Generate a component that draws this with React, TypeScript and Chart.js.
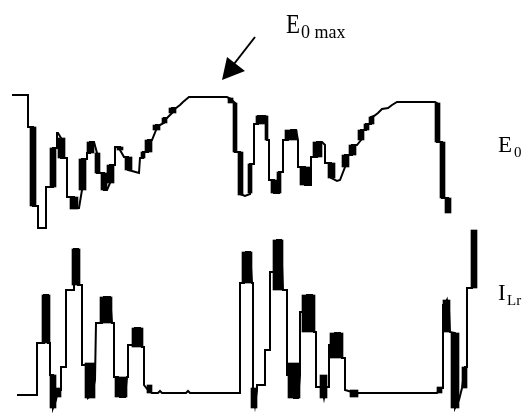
import React, { useEffect, useRef } from 'react';
import { Chart, registerables } from 'chart.js';

Chart.register(...registerables);

// Time axis (arbitrary units) and level (arbitrary units).
// E0 waveform: [time, level]
const E0_TRACE: [number, number][] = [
  [12, 318], [28, 318], [28, 286], [33, 286], [33, 207], [38, 207], [38, 185], [46, 185],
  [46, 226], [53, 226], [53, 265], [57, 265], [57, 280], [58, 280], [61, 275], [61, 255],
  [67, 255], [67, 216], [74, 216], [74, 205], [79, 205], [82, 223], [82, 254], [87, 254],
  [87, 260], [90, 260], [90, 271], [94, 271], [97, 260], [97, 240], [104, 240], [104, 223],
  [107, 223], [110, 230], [110, 248], [115, 248], [115, 266], [120, 266], [120, 263], [124, 256],
  [128, 256], [128, 243], [132, 242], [139, 240], [140, 255], [143, 255], [143, 261], [148, 261],
  [148, 273], [152, 273], [156, 283], [156, 288], [160, 288], [164, 290], [164, 295], [167, 295],
  [172, 300], [172, 305], [176, 305], [180, 308], [183, 311], [189, 316], [227, 316], [231, 314],
  [235, 310], [235, 261], [240, 261], [240, 219], [245, 217], [250, 219], [250, 249], [254, 249],
  [254, 289], [258, 289], [258, 297], [265, 297], [267, 288], [267, 273], [269, 273], [269, 233],
  [274, 233], [274, 220], [279, 220], [279, 241], [283, 241], [283, 273], [288, 273], [291, 283],
  [296, 283], [298, 273], [298, 246], [305, 246], [305, 228], [311, 228], [311, 256], [317, 256],
  [317, 271], [322, 271], [325, 268], [325, 250], [331, 250], [331, 235], [337, 232], [340, 233],
  [345, 246], [345, 258], [352, 258], [352, 268], [357, 268], [361, 273], [361, 283], [366, 283],
  [366, 289], [371, 289], [371, 296], [374, 297], [378, 300], [382, 304], [388, 305], [392, 308],
  [397, 311], [435, 311], [437, 310], [437, 271], [442, 271], [442, 215], [448, 215], [448, 200],
];

// Fast transitions of E0: [startTime, endTime, highLevel, lowLevel]
const E0_FAST: [number, number, number, number][] = [
  [30, 36, 286, 207], [50, 56, 265, 226], [58, 65, 275, 255], [70, 78, 216, 204],
  [79, 86, 254, 223], [87, 94, 271, 260], [95, 100, 260, 240], [101, 107, 240, 223],
  [107, 114, 248, 230], [117, 123, 266, 263], [125, 132, 256, 243], [141, 145, 261, 255],
  [145, 152, 273, 261], [153, 160, 288, 283], [162, 167, 295, 290], [169, 176, 305, 300],
  [228, 233, 315, 310], [233, 237, 310, 261], [238, 243, 261, 218], [248, 252, 249, 220],
  [256, 267, 297, 289], [265, 268, 297, 273], [271, 277, 233, 220], [277, 281, 241, 220],
  [285, 297, 283, 273], [300, 310, 246, 228], [313, 322, 271, 256], [328, 335, 250, 235],
  [342, 349, 258, 246], [349, 356, 268, 258], [358, 364, 283, 273], [364, 369, 289, 283],
  [369, 374, 296, 289], [435, 440, 310, 271], [440, 445, 271, 215], [445, 451, 215, 200],
];

// ILr waveform: [time, level]
const ILR_TRACE: [number, number][] = [
  [17, 18], [37, 18], [37, 70], [44, 70], [44, 118], [48, 118], [48, 70], [50, 70],
  [50, 38], [53, 38], [53, 5], [56, 13], [58, 23], [61, 23], [61, 46], [66, 46],
  [66, 123], [74, 123], [74, 164], [78, 164], [78, 128], [82, 128], [82, 48], [88, 48],
  [88, 15], [92, 18], [95, 33], [96, 90], [102, 90], [104, 116], [110, 116], [112, 90],
  [114, 90], [114, 36], [118, 36], [120, 16], [125, 16], [127, 36], [128, 36], [128, 68],
  [133, 68], [135, 85], [140, 85], [142, 66], [144, 66], [144, 28], [148, 23], [152, 20],
  [158, 20], [160, 22], [162, 20], [186, 20], [188, 22], [190, 20], [240, 20], [240, 130],
  [244, 130], [246, 161], [250, 161], [252, 130], [253, 130], [253, 23], [255, 8], [257, 23],
  [257, 28], [265, 28], [265, 63], [270, 63], [270, 141], [275, 141], [277, 173], [281, 173],
  [283, 123], [287, 123], [287, 38], [292, 38], [294, 15], [298, 15], [300, 38], [300, 101],
  [305, 101], [307, 118], [312, 118], [314, 81], [316, 81], [316, 26], [322, 26], [324, 15],
  [326, 26], [329, 26], [329, 68], [333, 68], [335, 80], [340, 80], [342, 55], [345, 55],
  [345, 23], [352, 21], [356, 18], [358, 20], [437, 20], [440, 25], [443, 25], [443, 108],
  [445, 108], [447, 113], [449, 103], [450, 81], [455, 80], [455, 5], [459, 13], [462, 25],
  [465, 46], [467, 46], [467, 125], [472, 125], [474, 183],
];

// Fast transitions of ILr: [startTime, endTime, highLevel, lowLevel]
const ILR_FAST: [number, number, number, number][] = [
  [42, 50, 118, 70], [50, 56, 38, 5], [56, 61, 25, 16], [72, 80, 164, 128],
  [85, 95, 50, 15], [100, 112, 116, 90], [115, 127, 36, 16], [132, 143, 85, 66],
  [147, 152, 28, 20], [242, 252, 161, 130], [251, 257, 25, 5], [273, 283, 173, 123],
  [288, 300, 50, 15], [302, 315, 118, 81], [320, 327, 38, 15], [330, 343, 80, 55],
  [350, 358, 23, 16], [437, 442, 26, 20], [443, 450, 113, 81], [451, 459, 80, 5],
  [462, 467, 46, 25], [471, 477, 183, 125],
];

const T_RANGE: [number, number] = [0, 532];
const V_RANGE: [number, number] = [0, 413];

const W = 532;
const H = 413;
const INK = '#000000';
const SERIF = '"Liberation Serif", "Times New Roman", serif';

function traceDataset(trace: [number, number][]) {
  return {
    type: 'line' as const,
    data: trace.map(([x, y]) => ({ x, y })),
    borderColor: INK,
    borderWidth: 2,
    pointRadius: 0,
    tension: 0,
    fill: false,
    borderJoinStyle: 'miter' as const,
  };
}

function fastDatasets(blocks: [number, number, number, number][]) {
  const pxPerUnit = W / (T_RANGE[1] - T_RANGE[0]);
  return blocks.map(([t0, t1, hi, lo]) => ({
    type: 'bar' as const,
    data: [{ x: (t0 + t1) / 2, y: [lo, hi] }],
    backgroundColor: INK,
    borderWidth: 0,
    grouped: false,
    barThickness: (t1 - t0) * pxPerUnit,
  }));
}

const labelPlugin = {
  id: 'waveLabels',
  afterDraw(chart: any) {
    const { ctx } = chart;
    const xs = chart.scales.x;
    const ys = chart.scales.y;
    const px = (t: number) => xs.getPixelForValue(t);
    const py = (v: number) => ys.getPixelForValue(v);
    ctx.save();
    ctx.fillStyle = INK;
    ctx.strokeStyle = INK;
    ctx.textBaseline = 'alphabetic';
    ctx.textAlign = 'left';

    // E0 max label
    ctx.save();
    ctx.translate(px(286), py(413 - 33));
    ctx.scale(1, 1.22);
    ctx.font = `23px ${SERIF}`;
    ctx.fillText('E', 0, 0);
    ctx.restore();
    ctx.font = `18px ${SERIF}`;
    ctx.fillText('0 max', px(301), py(413 - 38));

    // arrow to the E0 plateau
    ctx.lineWidth = 2;
    ctx.beginPath();
    ctx.moveTo(px(255), py(413 - 37));
    ctx.lineTo(px(234), py(413 - 64));
    ctx.stroke();
    ctx.beginPath();
    ctx.moveTo(px(222), py(413 - 80));
    ctx.lineTo(px(227), py(413 - 57));
    ctx.lineTo(px(245), py(413 - 71));
    ctx.closePath();
    ctx.fill();

    // E0 trace label
    ctx.font = `23px ${SERIF}`;
    ctx.fillText('E', px(498), py(413 - 152));
    ctx.font = `15px ${SERIF}`;
    ctx.fillText('0', px(514), py(413 - 157));

    // ILr trace label
    ctx.font = `23px ${SERIF}`;
    ctx.fillText('I', px(498), py(413 - 300));
    ctx.font = `15px ${SERIF}`;
    ctx.fillText('Lr', px(507), py(413 - 305));

    ctx.restore();
  },
};

export default function App() {
  const canvasRef = useRef<HTMLCanvasElement | null>(null);

  useEffect(() => {
    const canvas = canvasRef.current;
    if (!canvas) return;
    const chart = new Chart(canvas, {
      type: 'line',
      data: {
        datasets: [
          traceDataset(E0_TRACE),
          traceDataset(ILR_TRACE),
          ...fastDatasets(E0_FAST),
          ...fastDatasets(ILR_FAST),
        ] as any,
      },
      options: {
        animation: false,
        responsive: false,
        maintainAspectRatio: false,
        devicePixelRatio: 1,
        layout: { padding: 0 },
        plugins: {
          legend: { display: false },
          tooltip: { enabled: false },
          title: { display: false },
        },
        scales: {
          x: { type: 'linear', min: T_RANGE[0], max: T_RANGE[1], display: false, offset: false },
          y: { type: 'linear', min: V_RANGE[0], max: V_RANGE[1], display: false },
        },
        elements: { line: { capBezierPoints: false } },
      },
      plugins: [labelPlugin],
    });
    return () => chart.destroy();
  }, []);

  return (
    <div style={{ position: 'fixed', left: 0, top: 0, width: W, height: H, background: '#fff' }}>
      <canvas ref={canvasRef} width={W} height={H} style={{ display: 'block' }} />
    </div>
  );
}
